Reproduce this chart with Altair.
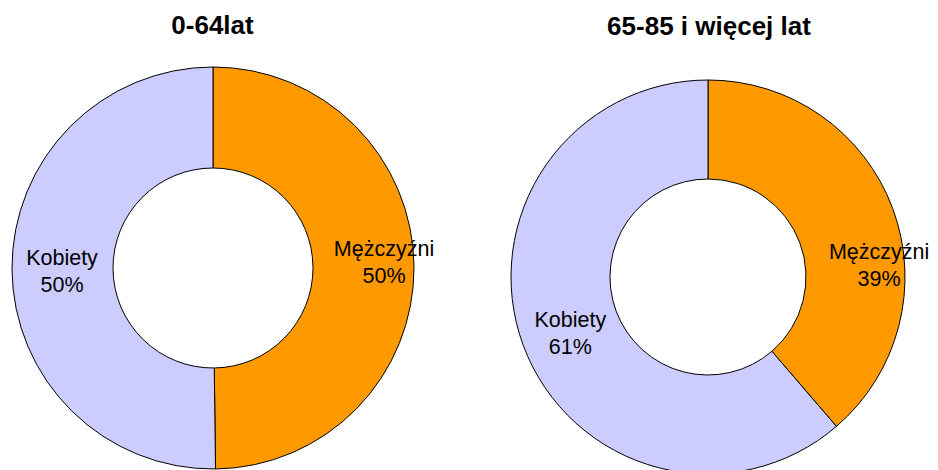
import altair as alt
import pandas as pd

# ---- data ----
grupy = ["0-64lat", "0-64lat", "65-85 i więcej lat", "65-85 i więcej lat"]
plec = ["Mężczyźni", "Kobiety", "Mężczyźni", "Kobiety"]
udzial = [49.8, 50.2, 38.7, 61.3]
procent = ["50%", "50%", "39%", "61%"]
kolejnosc = [1, 2, 1, 2]

df = pd.DataFrame({
    "grupa": grupy,
    "plec": plec,
    "udzial": udzial,
    "procent": procent,
    "kolejnosc": kolejnosc,
})

kolory = alt.Scale(domain=["Mężczyźni", "Kobiety"], range=["#FF9900", "#CCCCFF"])
skala_theta = alt.Scale(domain=[0, 100])

base = (
    alt.Chart(df)
    .transform_window(
        koniec="sum(udzial)",
        groupby=["grupa"],
        sort=[alt.SortField("kolejnosc")],
        frame=[None, 0],
    )
    .transform_calculate(
        poczatek="datum.koniec - datum.udzial",
        srodek="datum.koniec - datum.udzial / 2",
        etykieta="datum.plec + '\\n' + datum.procent",
    )
)

# layout (plot coordinates)
centra = {
    "0-64lat": (205, 260, 201, 100),
    "65-85 i więcej lat": (700, 269, 197, 98),
}
# label placement: radius, dx, dy
etyk_poz = {
    ("0-64lat", "Mężczyźni"): (171, 0, -17),
    ("0-64lat", "Kobiety"): (151, 0, -10),
    ("65-85 i więcej lat", "Mężczyźni"): (175, 7, 37),
    ("65-85 i więcej lat", "Kobiety"): (149, 2, -8),
}
tytuly_poz = {
    "0-64lat": (204.5, 26),
    "65-85 i więcej lat": (701, 27),
}

FONT = "Liberation Sans"
layers = []
for g, (cx, cy, ro, ri) in centra.items():
    arc = (
        base.transform_filter(alt.datum.grupa == g)
        .mark_arc(outerRadius=ro, innerRadius=ri, stroke="#000000", strokeWidth=1)
        .encode(
            theta=alt.Theta("poczatek:Q", scale=skala_theta),
            theta2="koniec:Q",
            color=alt.Color("plec:N", scale=kolory, legend=None),
            x=alt.value(cx),
            y=alt.value(cy),
        )
    )
    layers.append(arc)
    for p in ["Mężczyźni", "Kobiety"]:
        r, dx, dy = etyk_poz[(g, p)]
        txt = (
            base.transform_filter((alt.datum.grupa == g) & (alt.datum.plec == p))
            .mark_text(
                radius=r, dx=dx, dy=dy, font=FONT, fontSize=21.5, lineHeight=27,
                lineBreak="\n", align="center", baseline="middle", color="#000000",
            )
            .encode(
                theta=alt.Theta("srodek:Q", scale=skala_theta),
                text="etykieta:N",
                x=alt.value(cx),
                y=alt.value(cy),
            )
        )
        layers.append(txt)
    tx, ty = tytuly_poz[g]
    tytul = (
        alt.Chart(pd.DataFrame({"t": [g]}))
        .mark_text(font=FONT, fontSize=26, fontWeight="bold", align="center",
                   baseline="alphabetic", color="#000000")
        .encode(text="t:N", x=alt.value(tx), y=alt.value(ty))
    )
    layers.append(tytul)

chart = (
    alt.layer(*layers)
    .properties(width=922, height=462, padding=0, autosize=alt.AutoSizeParams(type="none"),
                background="#FFFFFF")
    .configure_view(stroke=None)
)

chart.save("out.html", embed_options={"renderer": "svg", "actions": False})
